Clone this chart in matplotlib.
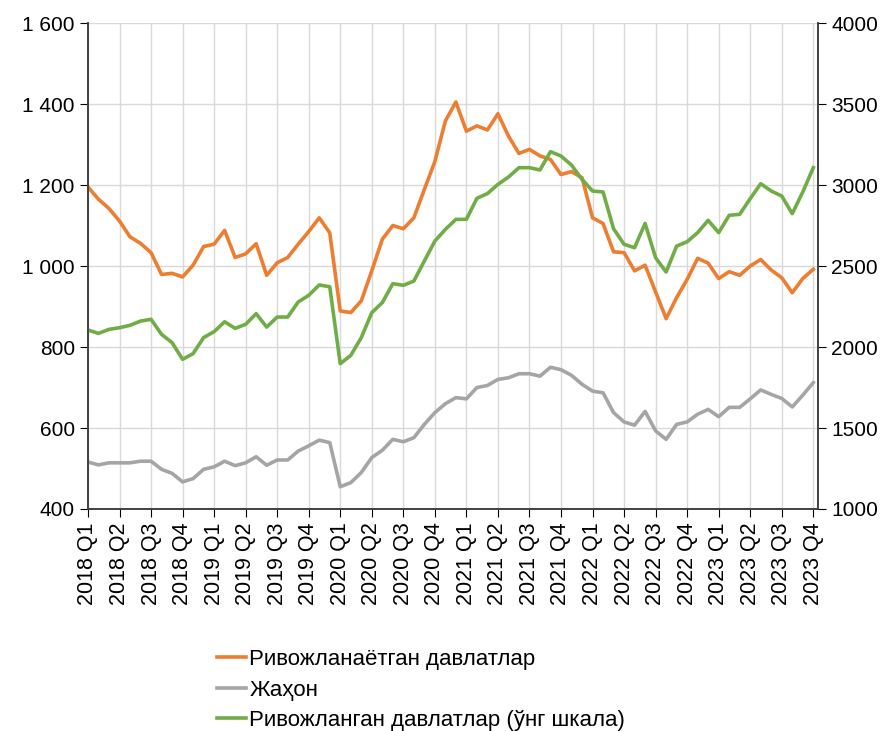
import numpy as np
import matplotlib.pyplot as plt
from matplotlib.ticker import FuncFormatter

plt.rcParams['font.family'] = ['Liberation Sans', 'DejaVu Sans']

years = ['2018', '2019', '2020', '2021', '2022', '2023']
quarters = ['Q1', 'Q2', 'Q3', 'Q4']
quarter_labels = [f'{y} {q}' for y in years for q in quarters]

# monthly points, three per quarter, label on every third point
emerging = [1195, 1165, 1142, 1111, 1072, 1056, 1033, 979, 982, 973,
            1002, 1048, 1054, 1088, 1021, 1030, 1055, 977, 1008, 1021,
            1054, 1085, 1119, 1082, 889, 885, 914, 988, 1066, 1100,
            1092, 1119, 1189, 1258, 1358, 1405, 1333, 1346, 1336, 1376,
            1321, 1278, 1288, 1272, 1263, 1226, 1233, 1218, 1119, 1105,
            1035, 1033, 988, 1002, 936, 870, 922, 967, 1019, 1007,
            969, 986, 977, 1000, 1016, 990, 971, 934, 969, 992]

world = [516, 509, 514, 514, 514, 518, 518, 498, 488, 467,
         475, 498, 504, 518, 507, 514, 529, 508, 521, 521,
         543, 556, 570, 564, 455, 465, 490, 527, 545, 572,
         566, 576, 609, 638, 660, 675, 672, 700, 705, 720,
         724, 734, 734, 728, 750, 744, 730, 708, 691, 687,
         638, 615, 607, 641, 593, 572, 609, 615, 634, 646,
         628, 651, 651, 672, 694, 683, 673, 652, 681, 712]

developed = [2105, 2084, 2109, 2119, 2134, 2160, 2171, 2078, 2027, 1924,
             1959, 2058, 2095, 2156, 2115, 2140, 2206, 2123, 2185, 2185,
             2278, 2319, 2383, 2372, 1897, 1948, 2058, 2212, 2274, 2391,
             2381, 2407, 2531, 2654, 2726, 2788, 2788, 2918, 2947, 3004,
             3049, 3107, 3107, 3093, 3206, 3179, 3123, 3035, 2963, 2957,
             2730, 2634, 2613, 2763, 2551, 2463, 2623, 2650, 2706, 2782,
             2706, 2813, 2819, 2916, 3008, 2963, 2932, 2823, 2957, 3107]

c_orange = '#ED7D31'
c_gray = '#A5A5A5'
c_green = '#70AD47'

x = np.arange(len(emerging))

fig = plt.figure(figsize=(8.94, 7.31), dpi=100)
ax = fig.add_axes([0.0984, 0.3037, 0.8166, 0.6648])
ax2 = ax.twinx()

l1, = ax.plot(x, emerging, color=c_orange, lw=2.6, label='Ривожланаётган давлатлар')
l2, = ax.plot(x, world, color=c_gray, lw=2.6, label='Жаҳон')
l3, = ax2.plot(x, developed, color=c_green, lw=2.6, label='Ривожланган давлатлар (ўнг шкала)')

ax.set_xlim(0, 69.45)
ax.set_ylim(400, 1600)
ax2.set_ylim(1000, 4000)
ax.set_yticks(np.arange(400, 1601, 200))
ax2.set_yticks(np.arange(1000, 4001, 500))
ax.yaxis.set_major_formatter(FuncFormatter(lambda v, p: f'{int(v):,}'.replace(',', ' ')))

ax.set_xticks(x[::3])
ax.set_xticklabels(quarter_labels, rotation=90, fontsize=15.5)
ax.tick_params(axis='y', labelsize=15, length=6, direction='out')
ax2.tick_params(axis='y', labelsize=15, length=6, direction='out')
ax.tick_params(axis='x', length=6, direction='out')

ax.grid(True, color='#D9D9D9', lw=1)
ax.set_axisbelow(True)
for a in (ax, ax2):
    a.spines['top'].set_visible(False)
    for s in ('left', 'right', 'bottom'):
        a.spines[s].set_color('#404040')
        a.spines[s].set_linewidth(1.2)

fig.legend(handles=[l1, l2, l3], loc='upper left', bbox_to_anchor=(0.233, 0.124),
           frameon=False, fontsize=16, handlelength=1.3, handletextpad=0.15,
           labelspacing=0.42, borderaxespad=0)

fig.savefig('out.png', dpi=100)
